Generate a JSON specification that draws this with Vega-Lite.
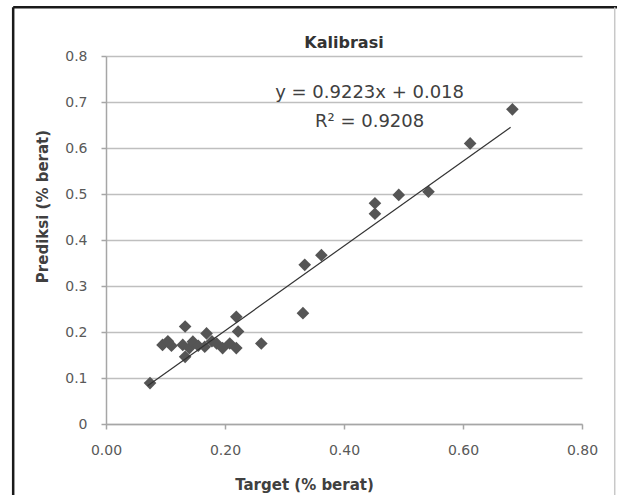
{
  "$schema": "https://vega.github.io/schema/vega-lite/v6.json",
  "width": 476,
  "height": 368,
  "autosize": {"type": "none"},
  "padding": {"left": 106, "top": 56, "right": 35, "bottom": 71},
  "background": "white",
  "config": {
    "view": {"stroke": null},
    "font": "DejaVu Sans",
    "axis": {"labelFont": "DejaVu Sans", "titleFont": "DejaVu Sans"}
  },
  "title": {
    "text": "Kalibrasi",
    "fontSize": 16,
    "fontWeight": "bold",
    "font": "DejaVu Sans",
    "color": "#333333",
    "anchor": "middle",
    "frame": "group",
    "offset": 0,
    "baseline": "middle",
    "dy": 53
  },
  "datasets": {
    "points": [
      {"target": 0.074, "prediksi": 0.089},
      {"target": 0.095, "prediksi": 0.172},
      {"target": 0.110, "prediksi": 0.170},
      {"target": 0.104, "prediksi": 0.180},
      {"target": 0.133, "prediksi": 0.212},
      {"target": 0.129, "prediksi": 0.172},
      {"target": 0.133, "prediksi": 0.146},
      {"target": 0.140, "prediksi": 0.165},
      {"target": 0.146, "prediksi": 0.179},
      {"target": 0.155, "prediksi": 0.170},
      {"target": 0.169, "prediksi": 0.197},
      {"target": 0.166, "prediksi": 0.168},
      {"target": 0.178, "prediksi": 0.180},
      {"target": 0.186, "prediksi": 0.175},
      {"target": 0.196, "prediksi": 0.165},
      {"target": 0.208, "prediksi": 0.175},
      {"target": 0.219, "prediksi": 0.233},
      {"target": 0.222, "prediksi": 0.201},
      {"target": 0.219, "prediksi": 0.165},
      {"target": 0.261, "prediksi": 0.175},
      {"target": 0.331, "prediksi": 0.241},
      {"target": 0.334, "prediksi": 0.346},
      {"target": 0.362, "prediksi": 0.367},
      {"target": 0.452, "prediksi": 0.457},
      {"target": 0.452, "prediksi": 0.480},
      {"target": 0.492, "prediksi": 0.498},
      {"target": 0.542, "prediksi": 0.505},
      {"target": 0.612, "prediksi": 0.610},
      {"target": 0.683, "prediksi": 0.684}
    ],
    "trend": [
      {"target": 0.07, "prediksi": 0.083},
      {"target": 0.68, "prediksi": 0.645}
    ]
  },
  "layer": [
    {
      "data": {"values": [{}]},
      "mark": {"type": "rule", "color": "#1a1a1a", "strokeWidth": 2.5, "clip": false},
      "encoding": {
        "x": {"datum": -0.156, "type": "quantitative", "scale": {"domain": [0, 0.8], "nice": false}},
        "y": {"datum": -0.2, "type": "quantitative", "scale": {"domain": [0, 0.8], "nice": false}},
        "y2": {"datum": 0.906}
      }
    },
    {
      "data": {"values": [{}]},
      "mark": {"type": "rule", "color": "#1a1a1a", "strokeWidth": 2.5, "clip": false},
      "encoding": {
        "x": {"datum": -0.156, "type": "quantitative"},
        "x2": {"datum": 0.86},
        "y": {"datum": 0.906, "type": "quantitative"}
      }
    },
    {
      "data": {"values": [{}]},
      "mark": {"type": "rule", "color": "#c8c8c8", "strokeWidth": 1.5, "clip": false},
      "encoding": {
        "x": {"datum": 0.855, "type": "quantitative"},
        "y": {"datum": -0.2, "type": "quantitative"},
        "y2": {"datum": 0.906}
      }
    },
    {
      "data": {"name": "points"},
      "mark": {"type": "point", "shape": "diamond", "filled": true, "size": 160, "color": "#555555", "opacity": 1},
      "encoding": {
        "x": {
          "field": "target",
          "type": "quantitative",
          "scale": {"domain": [0, 0.8], "nice": false},
          "axis": {
            "values": [0, 0.2, 0.4, 0.6, 0.8],
            "format": ".2f",
            "grid": false,
            "labelFlush": false,
            "domainColor": "#a6a6a6",
            "domainWidth": 1.5,
            "tickColor": "#a6a6a6",
            "tickWidth": 1.5,
            "tickSize": 5,
            "labelFontSize": 14,
            "labelColor": "#595959",
            "labelPadding": 14,
            "title": "Target (% berat)",
            "titleFontSize": 15,
            "titleFontWeight": "bold",
            "titleColor": "#404040",
            "titleX": 198,
            "titleY": 60,
            "titleBaseline": "middle",
            "titleAlign": "center"
          }
        },
        "y": {
          "field": "prediksi",
          "type": "quantitative",
          "scale": {"domain": [0, 0.8], "nice": false},
          "axis": {
            "values": [0, 0.1, 0.2, 0.3, 0.4, 0.5, 0.6, 0.7, 0.8],
            "labelExpr": "datum.value == 0 ? '0' : format(datum.value, '.1f')",
            "labelFlush": false,
            "grid": true,
            "gridColor": "#bfbfbf",
            "gridWidth": 1.5,
            "domainColor": "#a6a6a6",
            "domainWidth": 1.5,
            "tickColor": "#a6a6a6",
            "tickWidth": 1.5,
            "tickSize": 5,
            "labelFontSize": 14,
            "labelColor": "#595959",
            "labelPadding": 14,
            "title": "Prediksi (% berat)",
            "titleFontSize": 15,
            "titleFontWeight": "bold",
            "titleColor": "#404040",
            "titleX": -64,
            "titleY": 150,
            "titleAngle": -90,
            "titleBaseline": "middle",
            "titleAlign": "center"
          }
        }
      }
    },
    {
      "data": {"name": "trend"},
      "mark": {"type": "line", "color": "#333333", "strokeWidth": 1.2},
      "encoding": {
        "x": {"field": "target", "type": "quantitative"},
        "y": {"field": "prediksi", "type": "quantitative"}
      }
    },
    {
      "data": {"values": [{}]},
      "mark": {"type": "text", "fontSize": 18, "color": "#404040", "baseline": "middle", "align": "center", "font": "DejaVu Sans"},
      "encoding": {
        "x": {"datum": 0.443, "type": "quantitative"},
        "y": {"datum": 0.72, "type": "quantitative"},
        "text": {"value": "y = 0.9223x + 0.018"}
      }
    },
    {
      "data": {"values": [{}]},
      "mark": {"type": "text", "fontSize": 18, "color": "#404040", "baseline": "middle", "align": "center", "font": "DejaVu Sans"},
      "encoding": {
        "x": {"datum": 0.443, "type": "quantitative"},
        "y": {"datum": 0.657, "type": "quantitative"},
        "text": {"value": "R² = 0.9208"}
      }
    }
  ]
}
